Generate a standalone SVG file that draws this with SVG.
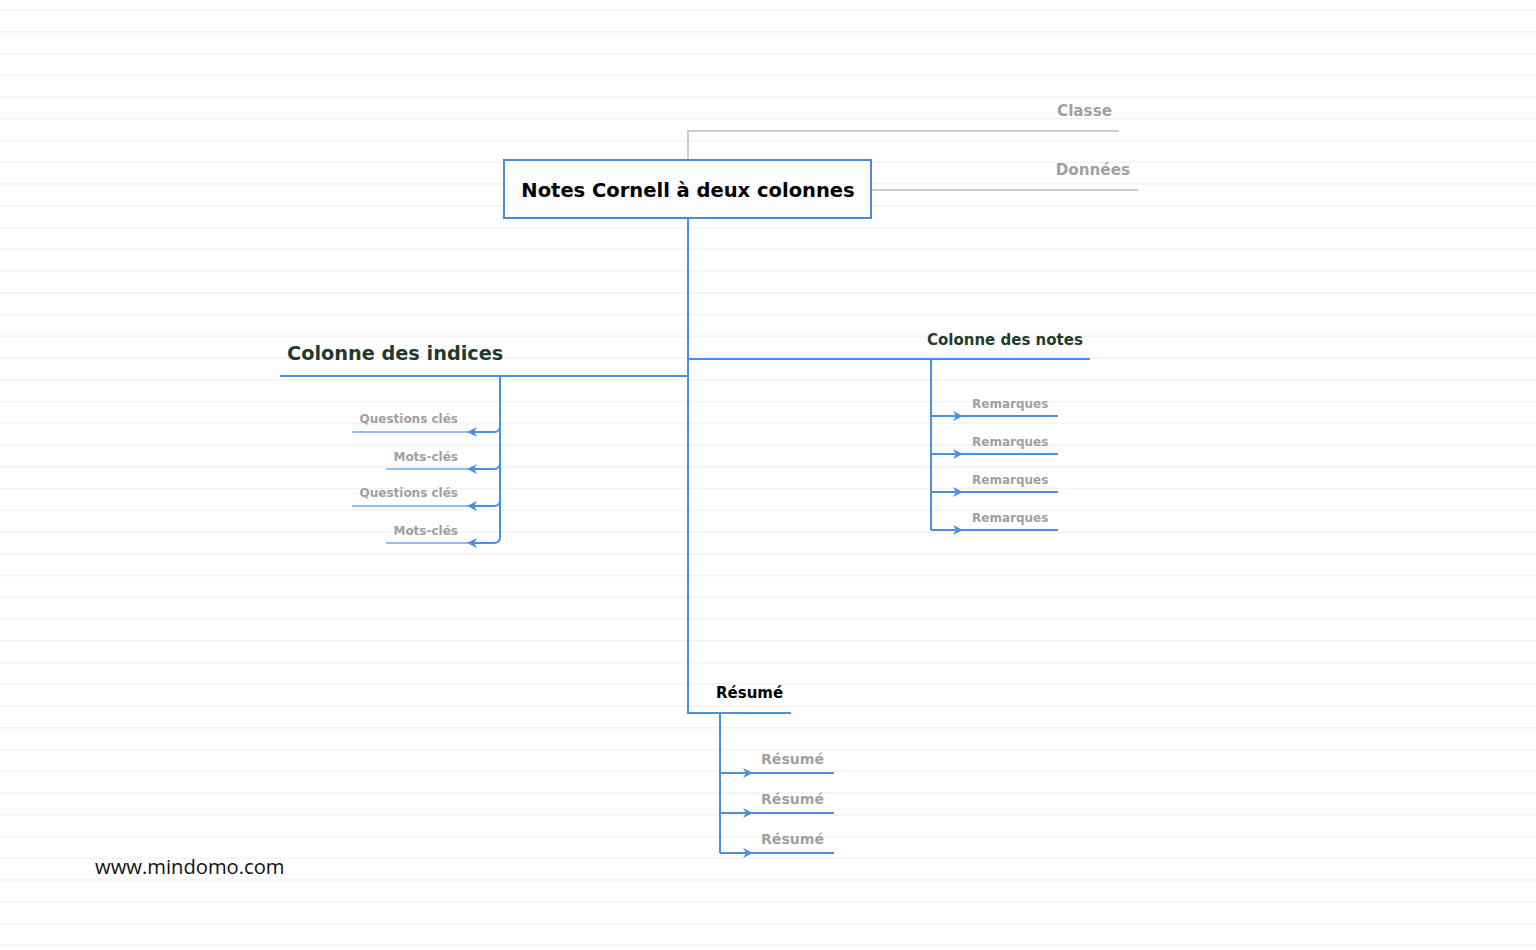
<svg xmlns="http://www.w3.org/2000/svg" width="1536" height="950" viewBox="0 0 1536 950">
<style>
.t{font-family:"DejaVu Sans",Verdana,sans-serif;font-weight:bold}
.grey{fill:#a0a0a0}
.dk{fill:#1f3b2e}
.bl{stroke:#4a90e2;stroke-width:2;fill:none}
.lb{stroke:#93bdee;stroke-width:2;fill:none}
.gl{stroke:#cccccc;stroke-width:2;fill:none}
.ah{fill:#4a90e2}
</style>
<defs>
<pattern id="rules" patternUnits="userSpaceOnUse" x="0" y="9.25" width="1536" height="21.75">
<rect x="0" y="0" width="1536" height="1.5" fill="#f1f1f1"/>
</pattern>
<path id="arR" d="M-10,-5 L0,0 L-10,5 L-7,0 Z"/>
</defs>
<rect width="1536" height="950" fill="#ffffff"/>
<rect width="1536" height="950" fill="url(#rules)"/>

<g id="connectors">
<path class="gl" d="M688,160 V131 H1119"/>
<path class="gl" d="M871,190 H1138"/>
<path class="bl" d="M688,218 V713 H791"/>
<path class="bl" d="M688,359 H1090"/>
<path class="bl" d="M688,376 H280"/>
<path class="bl" d="M500,376 V537 Q500,543 494,543 H470"/>
<path class="bl" d="M500,426 Q500,432 494,432 H470"/>
<path class="bl" d="M500,463 Q500,469 494,469 H470"/>
<path class="bl" d="M500,500 Q500,506 494,506 H470"/>
<path class="lb" d="M470,432 H352 M470,469 H386 M470,506 H352 M470,543 H386"/>
<use href="#arR" class="ah" transform="translate(467,432) rotate(180)"/>
<use href="#arR" class="ah" transform="translate(467,469) rotate(180)"/>
<use href="#arR" class="ah" transform="translate(467,506) rotate(180)"/>
<use href="#arR" class="ah" transform="translate(467,543) rotate(180)"/>
<path class="bl" d="M931,359 V530 M931,416 H1058 M931,454 H1058 M931,492 H1058 M931,530 H1058"/>
<use href="#arR" class="ah" transform="translate(963,416)"/>
<use href="#arR" class="ah" transform="translate(963,454)"/>
<use href="#arR" class="ah" transform="translate(963,492)"/>
<use href="#arR" class="ah" transform="translate(963,530)"/>
<path class="bl" d="M720,713 V853 M720,773 H834 M720,813 H834 M720,853 H834"/>
<use href="#arR" class="ah" transform="translate(753,773)"/>
<use href="#arR" class="ah" transform="translate(753,813)"/>
<use href="#arR" class="ah" transform="translate(753,853)"/>
</g>

<g id="central">
<rect x="504" y="160" width="367" height="58" fill="#fcfcfc" stroke="#4a8ad6" stroke-width="2"/>
<text class="t" x="688" y="197" font-size="19.5" text-anchor="middle" fill="#000">Notes Cornell à deux colonnes</text>
</g>
<g id="classe"><text class="t grey" x="1112" y="116" font-size="15.2" text-anchor="end">Classe</text></g>
<g id="donnees"><text class="t grey" x="1130" y="175" font-size="15.2" text-anchor="end">Données</text></g>

<g id="indices">
<text class="t dk" x="287" y="360" font-size="19.3">Colonne des indices</text>
</g>
<g id="q1"><text class="t grey" x="458" y="423" font-size="12" text-anchor="end">Questions clés</text></g>
<g id="m1"><text class="t grey" x="458" y="461" font-size="12" text-anchor="end">Mots-clés</text></g>
<g id="q2"><text class="t grey" x="458" y="497" font-size="12" text-anchor="end">Questions clés</text></g>
<g id="m2"><text class="t grey" x="458" y="535" font-size="12" text-anchor="end">Mots-clés</text></g>

<g id="notes">
<text class="t dk" x="927" y="345" font-size="15">Colonne des notes</text>
</g>
<g id="r1"><text class="t grey" x="972" y="408" font-size="12">Remarques</text></g>
<g id="r2"><text class="t grey" x="972" y="446" font-size="12">Remarques</text></g>
<g id="r3"><text class="t grey" x="972" y="484" font-size="12">Remarques</text></g>
<g id="r4"><text class="t grey" x="972" y="522" font-size="12">Remarques</text></g>

<g id="resume">
<text class="t" x="716" y="698" font-size="15" fill="#000">Résumé</text>
</g>
<g id="s1"><text class="t grey" x="761" y="764" font-size="14.1">Résumé</text></g>
<g id="s2"><text class="t grey" x="761" y="804" font-size="14.1">Résumé</text></g>
<g id="s3"><text class="t grey" x="761" y="844" font-size="14.1">Résumé</text></g>

<g id="watermark">
<text x="95" y="874" font-family="'Open Sans','Noto Sans',sans-serif" font-size="20.2" fill="#111">www.mindomo.com</text>
</g>
</svg>
